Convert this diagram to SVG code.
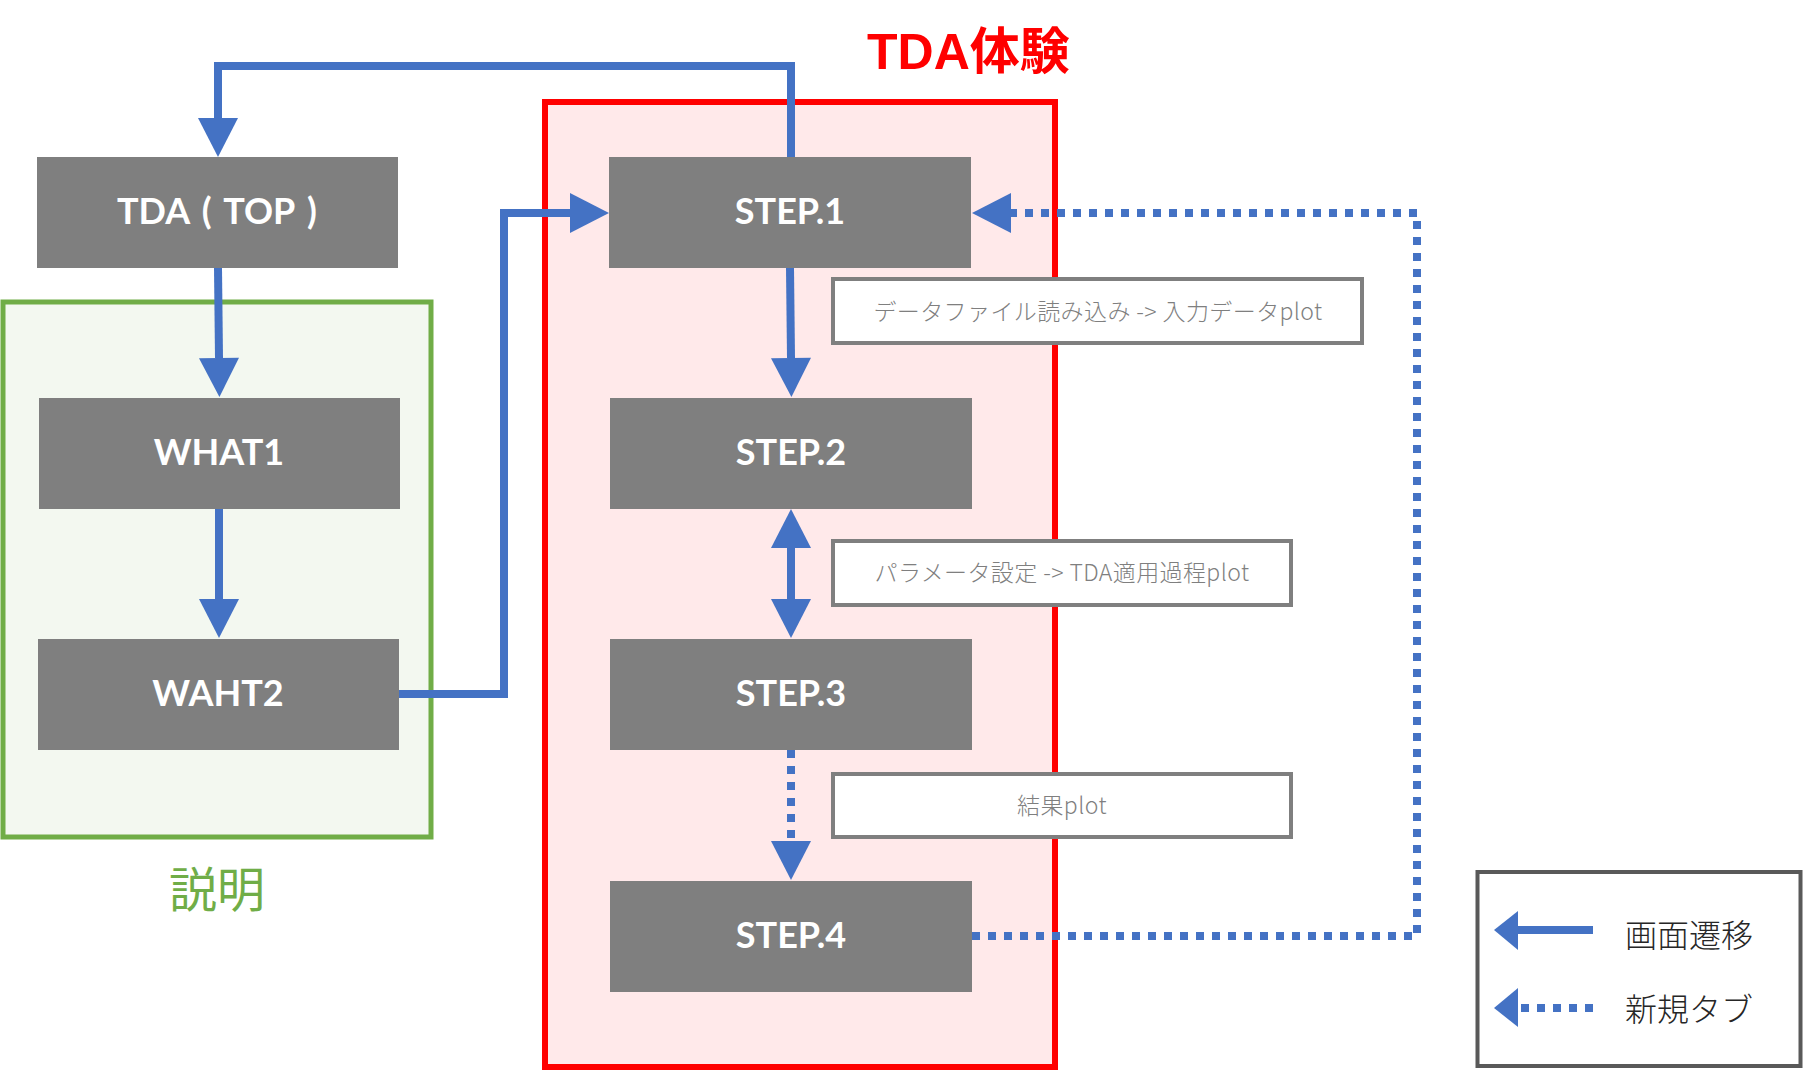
<svg xmlns="http://www.w3.org/2000/svg" width="1803" height="1071" viewBox="0 0 1803 1071">
<defs>
<style>
.node rect{fill:#7F7F7F;}
.node text{fill:#FFFFFF;font-family:Lato,"Liberation Sans",sans-serif;font-weight:bold;font-size:36px;text-anchor:middle;}
.lbl rect{fill:#FFFFFF;stroke:#7F7F7F;stroke-width:4;}
.lbl text{fill:#7F7F7F;font-family:"Noto Sans CJK JP",sans-serif;font-weight:300;font-size:23px;letter-spacing:0.4px;text-anchor:middle;}
.conn{fill:none;stroke:#4472C4;stroke-width:8;}
.dot{stroke-dasharray:8 8;}
.leg{fill:#262626;font-family:"Noto Sans CJK JP",sans-serif;font-weight:300;font-size:32px;}
</style>
<marker id="ah" markerUnits="userSpaceOnUse" markerWidth="40" markerHeight="42" refX="0" refY="20" orient="auto-start-reverse" viewBox="0 0 40 40" overflow="visible">
<path d="M0,0 L39,20 L0,40 Z" fill="#4472C4"/>
</marker>
</defs>
<rect width="1803" height="1071" fill="#FFFFFF"/>
<g id="group-setsumei">
<rect x="3" y="302" width="428" height="535" fill="#F3F8F0" stroke="#70AD47" stroke-width="5"/>
<text x="217" y="907" fill="#70AD47" font-family="'Noto Sans CJK JP',sans-serif" font-size="48" text-anchor="middle">説明</text>
</g>
<g id="group-tda">
<rect x="545" y="102" width="510" height="965" fill="#FFE9EA" stroke="#FF0000" stroke-width="6"/>
<text x="867" y="69" fill="#FF0000" font-family="'Liberation Sans','Noto Sans CJK JP',sans-serif" font-weight="bold" font-size="50">TDA体験</text>
</g>
<g id="labels">
<g id="label1" class="lbl"><rect x="833" y="279" width="529" height="64"/><text x="1098" y="320">データファイル読み込み -&gt; 入力データplot</text></g>
<g id="label2" class="lbl"><rect x="833" y="541" width="458" height="64"/><text x="1062" y="581">パラメータ設定 -&gt; TDA適用過程plot</text></g>
<g id="label3" class="lbl"><rect x="833" y="774" width="458" height="63"/><text x="1062" y="814">結果plot</text></g>
</g>
<g id="node-top" class="node"><rect x="37" y="157" width="361" height="111"/><text x="217" y="224" word-spacing="4">TDA ( TOP )</text></g>
<g id="node-what1" class="node"><rect x="39" y="398" width="361" height="111"/><text x="219" y="465">WHAT1</text></g>
<g id="node-waht2" class="node"><rect x="38" y="639" width="361" height="111"/><text x="218" y="706">WAHT2</text></g>
<g id="node-step1" class="node"><rect x="609" y="157" width="362" height="111"/><text x="790" y="224">STEP.1</text></g>
<g id="node-step2" class="node"><rect x="610" y="398" width="362" height="111"/><text x="791" y="465">STEP.2</text></g>
<g id="node-step3" class="node"><rect x="610" y="639" width="362" height="111"/><text x="791" y="706">STEP.3</text></g>
<g id="node-step4" class="node"><rect x="610" y="881" width="362" height="111"/><text x="791" y="948">STEP.4</text></g>
<g id="connectors">
<path class="conn" d="M791,157 V66 H218 V118" marker-end="url(#ah)"/>
<path class="conn" d="M218,268 L219,358" marker-end="url(#ah)"/>
<path class="conn" d="M219,509 L219,599" marker-end="url(#ah)"/>
<path class="conn" d="M399,694 H504 V213 H570" marker-end="url(#ah)"/>
<path class="conn" d="M790,268 L791,358" marker-end="url(#ah)"/>
<path class="conn" d="M791,548 L791,599" marker-start="url(#ah)" marker-end="url(#ah)"/>
<path class="conn dot" d="M791,750 L791,841" marker-end="url(#ah)"/>
<path class="conn dot" d="M972,936 H1417 V213 H1011" marker-end="url(#ah)"/>
</g>
<g id="legend">
<rect x="1477.5" y="872" width="323" height="194" fill="#FFFFFF" stroke="#595959" stroke-width="4"/>
<path class="conn" d="M1516,930 H1593"/>
<polygon points="1518,911 1494,930 1518,950" fill="#4472C4"/>
<path class="conn dot" d="M1521,1008 H1593"/>
<polygon points="1518,988 1494,1008 1518,1027" fill="#4472C4"/>
<text class="leg" x="1625" y="947">画面遷移</text>
<text class="leg" x="1625" y="1021">新規タブ</text>
</g>
</svg>
